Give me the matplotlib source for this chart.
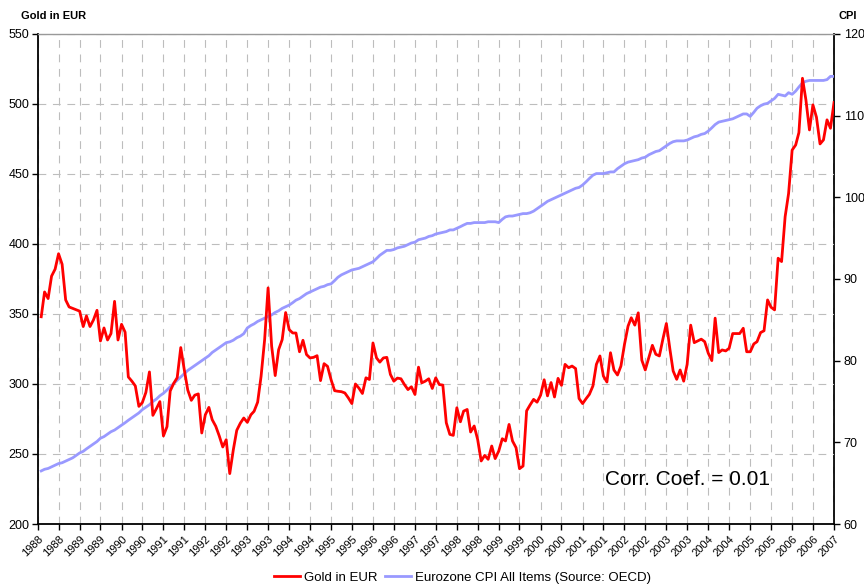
import pandas as pd
import matplotlib
matplotlib.use("Agg")
import matplotlib.pyplot as plt

plt.rcParams['font.family'] = ['Liberation Sans', 'DejaVu Sans']

# Monthly observations, Feb 1988 .. Jan 2007
months = pd.date_range('1988-02-01', periods=228, freq='MS')

gold_eur = [
    348, 365.7, 361, 377, 382, 393, 385.5, 360, 355, 354, 353, 352,
    341, 348.6, 341, 345.7, 352.6, 330.7, 340, 331.4, 336, 359, 331.4, 342.6,
    337, 305, 302, 298.6, 284, 286.7, 294, 308.6, 277.6, 282.4, 287.4, 262.9,
    269.5, 295, 300.5, 304.5, 326, 310.5, 295.7, 288.3, 292, 292.9, 265, 278,
    283.3, 274.5, 269.8, 263, 255, 260.2, 236, 253, 266.9, 272, 275.7, 272.6,
    278, 280.5, 287, 305.5, 331.7, 368.6, 327, 306, 324.5, 331.7, 351, 338.8,
    336.4, 336.4, 323, 331.2, 321, 318.6, 319, 320.2, 302.4, 314.5, 312.6, 303,
    295.2, 294.8, 294.5, 293.6, 290, 286, 300, 297, 293.2, 304.4, 303.2, 329.3,
    318.6, 315.6, 318.6, 319, 306.8, 302, 304.2, 303.7, 299.6, 296, 298, 292.5,
    312, 300.8, 302, 303.7, 296.8, 304.4, 299.6, 299.2, 272.3, 264, 263.3, 283,
    273, 280.6, 281.8, 265.7, 270, 260.5, 245, 249, 246.2, 255.7, 246.7, 252.1,
    260.9, 259.3, 271.1, 259.3, 254.5, 239.5, 241.4, 280.8, 285, 289, 287, 292,
    303, 291.5, 301, 290.7, 304, 299, 314, 311.6, 312.8, 311, 289.6, 286,
    289.6, 292.6, 298.6, 314, 320, 305.7, 301.4, 322.3, 310, 306.4, 312.8, 328.3,
    341.3, 347.3, 342, 350.8, 317, 310, 318.8, 327.6, 321.2, 320, 331.8, 343.2,
    324.7, 309.3, 303.3, 310, 302, 314, 342, 329.5, 330.7, 332, 330.2, 322,
    316.7, 347, 322.4, 324.3, 323.6, 325.5, 336, 336, 336, 339.8, 323, 323,
    328.6, 330.2, 336.7, 338, 360, 354.8, 352.9, 389.8, 387.4, 419.5, 436, 467,
    470.7, 479.5, 518.3, 502.9, 481.4, 499.3, 490.5, 471.4, 474.3, 488.6, 482.6, 501,
]

cpi = [
    66.5, 66.7, 66.8, 67.0, 67.2, 67.4, 67.5, 67.7, 67.9, 68.1, 68.4, 68.7,
    68.9, 69.2, 69.5, 69.8, 70.1, 70.5, 70.7, 71.0, 71.3, 71.5, 71.8, 72.1,
    72.4, 72.7, 73.0, 73.3, 73.6, 74.0, 74.3, 74.6, 75.0, 75.3, 75.7, 76.0,
    76.4, 76.8, 77.2, 77.6, 78.0, 78.4, 78.8, 79.1, 79.4, 79.7, 80.0, 80.3,
    80.6, 81.0, 81.3, 81.6, 81.9, 82.2, 82.3, 82.5, 82.8, 83.0, 83.3, 84.0,
    84.3, 84.5, 84.8, 85.0, 85.2, 85.4, 85.6, 85.9, 86.1, 86.4, 86.6, 86.8,
    87.1, 87.4, 87.6, 87.9, 88.2, 88.4, 88.6, 88.8, 89.0, 89.1, 89.3, 89.4,
    89.8, 90.2, 90.5, 90.7, 90.9, 91.1, 91.2, 91.3, 91.5, 91.7, 91.9, 92.1,
    92.5, 92.9, 93.2, 93.5, 93.5, 93.6, 93.8, 93.9, 94.0, 94.2, 94.4, 94.5,
    94.8, 94.9, 95.0, 95.2, 95.3, 95.5, 95.6, 95.7, 95.8, 96.0, 96.0, 96.2,
    96.4, 96.6, 96.8, 96.8, 96.9, 96.9, 96.9, 96.9, 97.0, 97.0, 97.0, 96.9,
    97.3, 97.6, 97.7, 97.7, 97.8, 97.9, 98.0, 98.0, 98.1, 98.3, 98.6, 98.9,
    99.2, 99.5, 99.7, 99.9, 100.1, 100.3, 100.5, 100.7, 100.9, 101.1, 101.2, 101.5,
    101.9, 102.3, 102.7, 102.9, 102.9, 102.9, 103.0, 103.1, 103.1, 103.5, 103.8, 104.1,
    104.3, 104.4, 104.5, 104.6, 104.8, 104.9, 105.2, 105.4, 105.6, 105.7, 106.0, 106.3,
    106.6, 106.8, 106.9, 106.9, 106.9, 107.0, 107.2, 107.4, 107.5, 107.7, 107.8, 108.1,
    108.5, 108.9, 109.2, 109.3, 109.4, 109.5, 109.6, 109.8, 110.0, 110.2, 110.2, 109.9,
    110.4, 110.9, 111.2, 111.4, 111.5, 111.8, 112.1, 112.6, 112.5, 112.4, 112.8, 112.6,
    113.0, 113.5, 114.0, 114.2, 114.3, 114.3, 114.3, 114.3, 114.3, 114.4, 114.8, 114.8,
]

GOLD_LIM = (200, 550)
CPI_LIM = (60, 120)


def cpi_to_gold(v):
    # map the right-hand CPI scale onto the left-hand gold scale
    return GOLD_LIM[0] + (v - CPI_LIM[0]) * (GOLD_LIM[1] - GOLD_LIM[0]) / (CPI_LIM[1] - CPI_LIM[0])


def gold_to_cpi(v):
    return CPI_LIM[0] + (v - GOLD_LIM[0]) * (CPI_LIM[1] - CPI_LIM[0]) / (GOLD_LIM[1] - GOLD_LIM[0])


fig = plt.figure(figsize=(8.64, 5.87), dpi=100)
ax = fig.add_axes([0.0436, 0.1073, 0.9217, 0.835])

cpi_line, = ax.plot(months, [cpi_to_gold(v) for v in cpi], color='#9999ff', lw=2.0,
                    zorder=2, label='Eurozone CPI All Items (Source: OECD)')
gold_line, = ax.plot(months, gold_eur, color='#ff0000', lw=2.0, zorder=3,
                     label='Gold in EUR')

ax.set_ylim(*GOLD_LIM)
ax.set_yticks(range(200, 551, 50))
ax.set_xlim(pd.Timestamp('1988-01-01'), pd.Timestamp('2007-01-01'))

ticks = pd.date_range('1988-01-01', '2007-01-01', freq='6MS')
ax.set_xticks(ticks)
ax.set_xticklabels([str(d.year) for d in ticks], rotation=45, ha='right',
                   rotation_mode='anchor', fontsize=8)

ax.grid(True, color='#bdbdbd', lw=0.8, linestyle=(0, (7, 6)), zorder=1)
ax.set_axisbelow(True)

ax.tick_params(axis='both', direction='out', length=4, width=1, color='black')
ax.tick_params(axis='y', labelsize=9, pad=2)
ax.tick_params(axis='x', pad=3)

for side in ['left', 'bottom']:
    ax.spines[side].set_color('black')
    ax.spines[side].set_linewidth(1.3)
ax.spines['top'].set_color('#999999')
ax.spines['top'].set_linewidth(1.0)
ax.spines['right'].set_visible(False)

sec = ax.secondary_yaxis('right', functions=(gold_to_cpi, cpi_to_gold))
sec.set_yticks(range(60, 121, 10))
sec.tick_params(direction='out', length=4, width=1, labelsize=9, pad=3)
sec.spines['right'].set_color('black')
sec.spines['right'].set_linewidth(1.3)

fig.text(0.024, 0.972, 'Gold in EUR', fontsize=8, fontweight='bold', va='center', ha='left')
fig.text(0.970, 0.972, 'CPI', fontsize=8, fontweight='bold', va='center', ha='left')

ax.text(0.712, 0.09, 'Corr. Coef. = 0.01', transform=ax.transAxes, fontsize=15,
        ha='left', va='center')

fig.legend(handles=[gold_line, cpi_line], loc='center', bbox_to_anchor=(0.535, 0.016),
           ncol=2, frameon=False, fontsize=9.5, handlelength=2.0, handletextpad=0.25,
           columnspacing=0.6)

fig.savefig('out.png', dpi=100)
plt.close(fig)
